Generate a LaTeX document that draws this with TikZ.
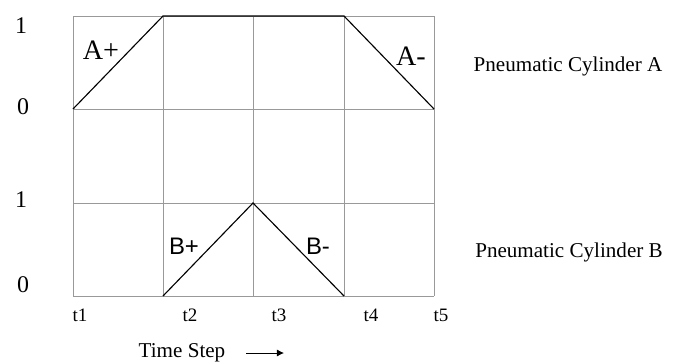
\documentclass[tikz,border=0pt]{standalone}
\usepackage{fontspec}
\setmainfont{Liberation Serif}
\newfontfamily\arialfont{Liberation Sans}
\usetikzlibrary{arrows.meta}
\begin{document}
\begin{tikzpicture}[x=0.025cm, y=-0.025cm,
    gridline/.style={gray!80, line width=0.5pt},
    motion/.style={black, line width=0.8pt},
    level/.style={font=\fontsize{17}{17}\selectfont},
    tick/.style={font=\fontsize{13.5}{14}\selectfont},
    caption/.style={font=\fontsize{15}{15}\selectfont}]
    \useasboundingbox (0,0) rectangle (681,363);

    % Rejilla
    \foreach \x in {73,163,253,344,434}
        \draw[gridline] (\x,16) -- (\x,296);
    \foreach \y in {16,109,203,296}
        \draw[gridline] (73,\y) -- (434,\y);

    % Cilindro A
    \coordinate (a0) at (73,109);
    \coordinate (a1) at (163,16);
    \coordinate (a2) at (344,16);
    \coordinate (a3) at (434,109);
    \draw[motion] (a0) -- (a1) -- (a2) -- (a3);

    % Cilindro B
    \coordinate (b0) at (163,296);
    \coordinate (b1) at (253,203);
    \coordinate (b2) at (344,296);
    \draw[motion] (b0) -- (b1) -- (b2);

    % Etiquetas de movimiento
    \node[font=\fontsize{20}{20}\selectfont] (aplus) at (101,50) {A+};
    \node[font=\fontsize{20}{20}\selectfont] (aminus) at (411,56) {A-};
    \node[font=\arialfont\fontsize{17}{17}\selectfont] (bplus) at (184,246) {B+};
    \node[font=\arialfont\fontsize{17}{17}\selectfont] (bminus) at (318,246) {B-};

    % Niveles
    \node[level] (ahigh) at (21,26) {1};
    \node[level] (alow) at (23,107) {0};
    \node[level] (bhigh) at (21,200) {1};
    \node[level] (blow) at (23,285) {0};

    % Pasos de tiempo
    \node[tick] (t1) at (80,315) {t1};
    \node[tick] (t2) at (190,315) {t2};
    \node[tick] (t3) at (279,315) {t3};
    \node[tick] (t4) at (371,315) {t4};
    \node[tick] (t5) at (441,315) {t5};

    % Textos
    \node[caption] (cyla) at (568,66) {Pneumatic Cylinder A};
    \node[caption] (cylb) at (569,252) {Pneumatic Cylinder B};
    \node[caption] (time) at (182,353) {Time Step};
    \coordinate (arrs) at (246,353);
    \coordinate (arre) at (284,353);
    \draw[-{Latex[length=5pt,width=5pt]}, line width=0.6pt] (arrs) -- (arre);
\end{tikzpicture}
\end{document}
